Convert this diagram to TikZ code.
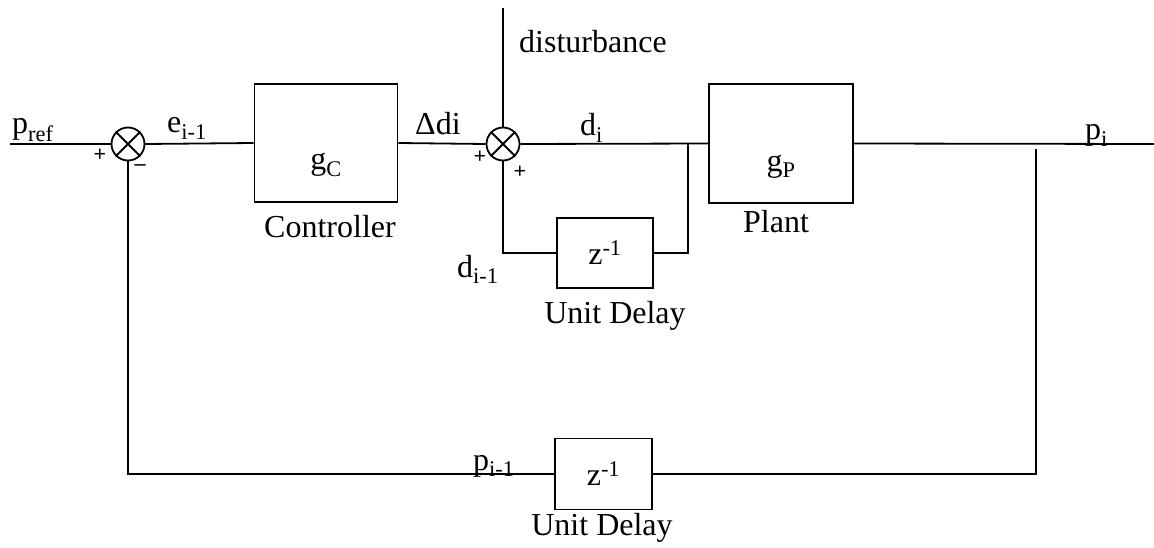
\documentclass[tikz,border=0pt]{standalone}
\usepackage{fontspec}
\setmainfont{Liberation Serif}
\usepackage{tikz}
\usetikzlibrary{positioning,calc}
\tikzset{
  blk/.style={draw,line width=1.8pt,inner sep=0pt},
  sumjn/.style={draw,circle,line width=1.8pt,minimum size=33pt,inner sep=0pt},
  sig/.style={line width=1.8pt},
  lbl/.style={anchor=base west,inner sep=0pt},
  blkcap/.style={anchor=base,inner sep=0pt},
  sgn/.style={font=\fontsize{22}{26}\selectfont\bfseries,inner sep=0pt},
}

\begin{document}
\begin{tikzpicture}[x=1pt,y=-1pt,font=\fontsize{32}{38}\selectfont]
\useasboundingbox (0,0) rectangle (1154,548);

% ============ forward path ============
\coordinate (pin) at (10,144);
\node[sumjn] (s1) at (128,144) {};
\node[blk,minimum width=143pt,minimum height=118pt] (ctrl) at (326,143) {};
\node[sumjn] (s2) at (503,144) {};
\node[blk,minimum width=144pt,minimum height=119pt] (plant) at (781,143.5) {};
\coordinate (pout) at (1154,144);
\coordinate (dist) at (503,8);
\coordinate (br) at (688,144);
\coordinate (tap) at (1036,149);

\draw[sig] (s1.north west) -- (s1.south east) (s1.north east) -- (s1.south west);
\draw[sig] (s2.north west) -- (s2.south east) (s2.north east) -- (s2.south west);

\draw[sig] (pin) -- (s1.west);
\draw[sig] (s1.east) -- (ctrl.west);
\draw[sig] (ctrl.east) -- (s2.west);
\draw[sig] (s2.east) -- (plant.west);
\draw[sig] (plant.east) -- (pout);
\draw[sig] (dist) -- (s2.north);

% ============ inner delay loop ============
\node[blk,minimum width=96pt,minimum height=70pt] (dly1) at (605,253) {z\textsuperscript{-1}};
\draw[sig] (s2.south) |- (dly1.west);
\draw[sig] (dly1.east) -| (br);

% ============ outer feedback ============
\node[blk,minimum width=97pt,minimum height=71pt] (dly2) at (603.5,474) {z\textsuperscript{-1}};
\draw[sig] (tap) |- (dly2.east);
\draw[sig] (dly2.west) -| (s1.south);

% ============ labels ============
\node[blkcap] (gc) at ([yshift=-27pt]ctrl.center) {g\textsubscript{C}};
\node[blkcap] (gp) at ([yshift=-28pt]plant.center) {g\textsubscript{P}};
\node[lbl] (lpref) at (12,134) {p\textsubscript{ref}};
\node[lbl] (lerr) at (167,133) {e\textsubscript{i-1}};
\node[lbl] (ldd) at (415,135) {Δdi};
\node[lbl] (ldist) at (519,53) {disturbance};
\node[lbl] (ld) at (580,136) {d\textsubscript{i}};
\node[lbl] (ldm) at (457,277) {d\textsubscript{i-1}};
\node[lbl] (lp) at (1085,140) {p\textsubscript{i}};
\node[lbl] (lpm) at (473,470) {p\textsubscript{i-1}};
\node[blkcap] (lctrl) at (330,238) {Controller};
\node[blkcap] (lplant) at (776,233) {Plant};
\node[blkcap] (ldly1) at (615,323) {Unit Delay};
\node[blkcap] (ldly2) at (602,535) {Unit Delay};

\node[sgn] (pl1) at (100,155) {+};
\node[sgn] (mn1) at (140,168) {–};
\node[sgn] (pl2) at (480,157) {+};
\node[sgn] (pl3) at (520,172) {+};
\end{tikzpicture}
\end{document}
